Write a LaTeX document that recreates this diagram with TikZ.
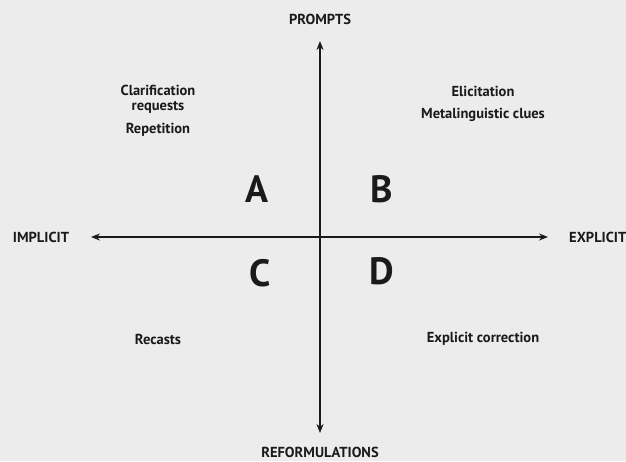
\documentclass[tikz,border=0pt]{standalone}
\usepackage{fontspec}
\setmainfont{PT Sans}
\usetikzlibrary{arrows.meta}
\definecolor{bg}{HTML}{ECECEC}
\definecolor{ink}{HTML}{1A1A1A}
\tikzset{
  lab/.style={font=\bfseries\fontsize{14.5}{15}\selectfont, text=ink, align=center, inner sep=0pt},
  quad/.style={font=\bfseries\fontsize{38}{38}\selectfont, text=ink, inner sep=0pt},
  axis/.style={line width=1.7pt, ink, {Stealth[length=9pt,width=7pt]}-{Stealth[length=9pt,width=7pt]}}
}
\begin{document}
\begin{tikzpicture}[x=1pt, y=-1pt]
\fill[bg] (0,0) rectangle (626,461);
\useasboundingbox (0,0) rectangle (626,461);
% axes
\coordinate (top) at (320,41);
\coordinate (bot) at (320,433);
\coordinate (lft) at (91,237);
\coordinate (rgt) at (548,237);
\draw[axis] (top) -- (bot);
\draw[axis] (lft) -- (rgt);
%Text
\node[lab] (prompts) at (320,19) {PROMPTS};
\node[lab, anchor=base] (reform) at (320,457) {REFORMULATIONS};
\node[lab] (implicit) at (41,237) {IMPLICIT};
\node[lab, anchor=west] (explicit) at (569,237) {EXPLICIT};
\node[quad] (qa) at (257,189) {A};
\node[quad] (qb) at (382,189) {B};
\node[quad] (qc) at (260,273) {C};
\node[quad] (qd) at (382,271) {D};
\node[lab] (clar) at (158,99) {Clarification\\[0pt]requests};
\node[lab] (rep) at (158,130) {Repetition};
\node[lab] (elic) at (483,91) {Elicitation};
\node[lab] (meta) at (483,115) {Metalinguistic clues};
\node[lab] (recast) at (158,339) {Recasts};
\node[lab] (expcor) at (483,339) {Explicit correction};
\end{tikzpicture}
\end{document}
